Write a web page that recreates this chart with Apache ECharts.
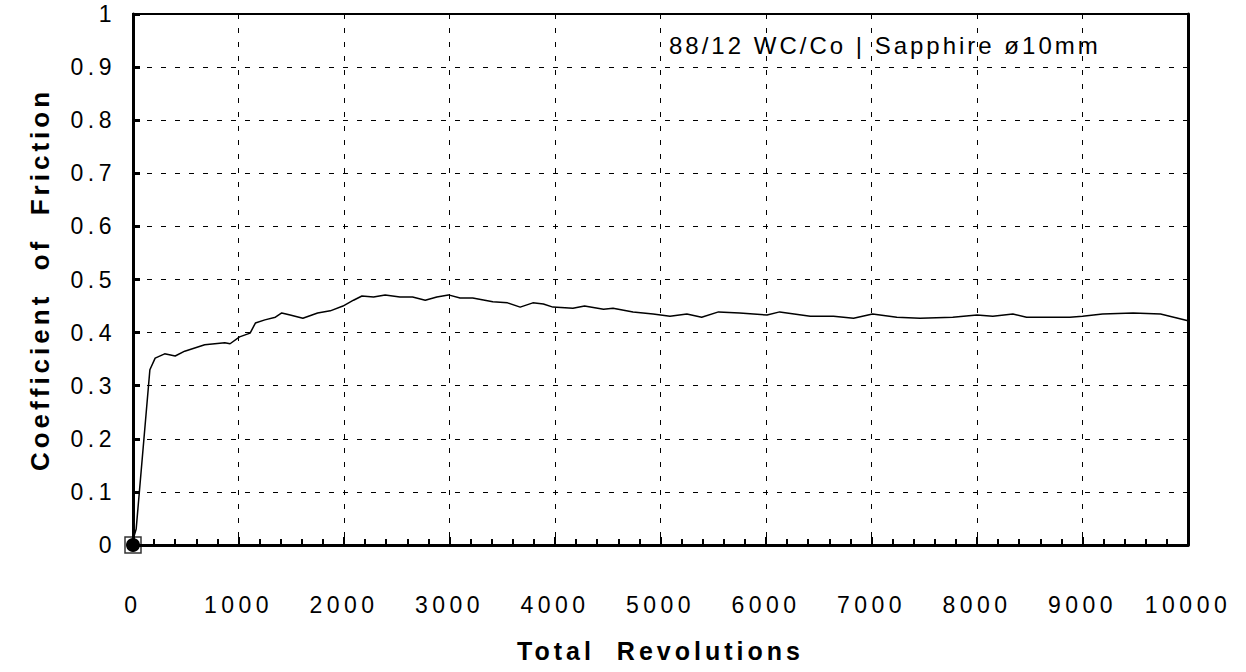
<!DOCTYPE html>
<html>
<head>
<meta charset="utf-8">
<script src="https://cdn.jsdelivr.net/npm/echarts@6/dist/echarts.min.js"></script>
<style>
  html, body { margin: 0; padding: 0; background: #fff; }
  #chart { width: 1246px; height: 672px; }
  /* scanned original has wide tracking */
  #chart text { letter-spacing: 4.5px; }
  #chart text[style*="24px"] { letter-spacing: 3px; }
  #chart text[style*="bold"], #chart text[font-weight="bold"] { letter-spacing: 4px; }
</style>
</head>
<body>
<div id="chart"></div>
<script>
// friction trace
const revolutions = [0, 30, 160, 210, 300, 400, 490, 680, 870, 920, 1010, 1110, 1160, 1250, 1350, 1410, 1490, 1610, 1750, 1870, 1990, 2090, 2170, 2280, 2390, 2530, 2650, 2770, 2880, 2990, 3100, 3220, 3360, 3410, 3550, 3670, 3790, 3890, 3980, 4170, 4280, 4460, 4550, 4740, 4930, 5090, 5250, 5390, 5550, 5750, 6010, 6130, 6420, 6640, 6830, 7010, 7240, 7460, 7770, 8000, 8150, 8340, 8470, 8660, 8880, 9000, 9190, 9480, 9740, 10010, 10110]
const friction = [0.01, 0.03, 0.33, 0.352, 0.36, 0.356, 0.365, 0.377, 0.381, 0.379, 0.392, 0.399, 0.418, 0.424, 0.429, 0.437, 0.433, 0.427, 0.437, 0.441, 0.45, 0.461, 0.469, 0.467, 0.471, 0.467, 0.467, 0.461, 0.467, 0.471, 0.465, 0.465, 0.46, 0.458, 0.456, 0.448, 0.456, 0.454, 0.448, 0.446, 0.45, 0.444, 0.446, 0.439, 0.435, 0.431, 0.435, 0.429, 0.439, 0.437, 0.433, 0.439, 0.431, 0.431, 0.427, 0.435, 0.429, 0.427, 0.429, 0.433, 0.431, 0.435, 0.429, 0.429, 0.429, 0.431, 0.435, 0.437, 0.435, 0.422, 0.427]

// start marker at the origin
const startX = [0]
const startY = [0]

const xTicks = [0, 10000, 1000]
const yTicks = [0, 1, 0.1]

const titleText = '88/12 WC/Co | Sapphire ø10mm'
const xName = 'Total  Revolutions'
const yName = 'Coefficient  of  Friction'

const font = 'Liberation Sans'

const chart = echarts.init(document.getElementById('chart'), null, { renderer: 'svg' })

const dashed = { show: true, lineStyle: { color: '#000', type: [5, 9], width: 1 } }

const option = {
  backgroundColor: '#fff',
  animation: false,
  textStyle: { fontFamily: font, color: '#000' },
  grid: {
    left: 133, right: 58, top: 14, bottom: 127,
    show: true, borderColor: '#000', borderWidth: 2
  },
  graphic: [{
    type: 'text',
    left: 669,
    top: 33,
    style: { text: titleText, fontSize: 24, fontFamily: font, fill: '#000' }
  }],
  xAxis: {
    type: 'value',
    min: xTicks[0], max: xTicks[1], interval: xTicks[2],
    name: xName,
    nameLocation: 'middle',
    nameGap: 93,
    nameTextStyle: { fontSize: 25, fontWeight: 'bold', color: '#000' },
    axisLine: { lineStyle: { color: '#000', width: 3 } },
    axisTick: { inside: true, length: 8, lineStyle: { color: '#000', width: 2 } },
    minorTick: { show: true, splitNumber: 5, length: 6, lineStyle: { color: '#000', width: 2 } },
    axisLabel: { margin: 48, fontSize: 23, color: '#000', formatter: v => String(v) },
    splitLine: dashed
  },
  yAxis: [{
    type: 'value',
    min: yTicks[0], max: yTicks[1], interval: yTicks[2],
    name: yName,
    nameLocation: 'middle',
    nameGap: 80,
    nameTextStyle: { fontSize: 26, fontWeight: 'bold', color: '#000' },
    axisLine: { show: true, lineStyle: { color: '#000', width: 3 } },
    axisTick: { show: true, inside: true, length: 7, lineStyle: { color: '#000', width: 3 } },
    axisLabel: { margin: 17, fontSize: 23, color: '#000' },
    splitLine: dashed
  }, {
    type: 'value',
    position: 'right',
    min: yTicks[0], max: yTicks[1], interval: yTicks[2],
    axisLine: { show: true, lineStyle: { color: '#000', width: 3 } },
    axisTick: { show: false },
    axisLabel: { show: false },
    splitLine: { show: false }
  }],
  series: [
    {
      type: 'line',
      data: revolutions.map((r, i) => [r, friction[i]]),
      showSymbol: false,
      clip: false,
      lineStyle: { color: '#000', width: 1.5 }
    },
    {
      type: 'scatter',
      data: startX.map((x, i) => [x, startY[i]]),
      symbol: 'rect',
      symbolSize: 16,
      itemStyle: { color: 'rgba(0,0,0,0)', borderColor: '#000', borderWidth: 1.5 },
      z: 5
    },
    {
      type: 'scatter',
      data: startX.map((x, i) => [x, startY[i]]),
      symbol: 'circle',
      symbolSize: 14,
      itemStyle: { color: '#000', opacity: 1 },
      z: 6
    }
  ]
}

chart.setOption(option)
window.addEventListener('resize', () => chart.resize())
</script>
</body>
</html>
